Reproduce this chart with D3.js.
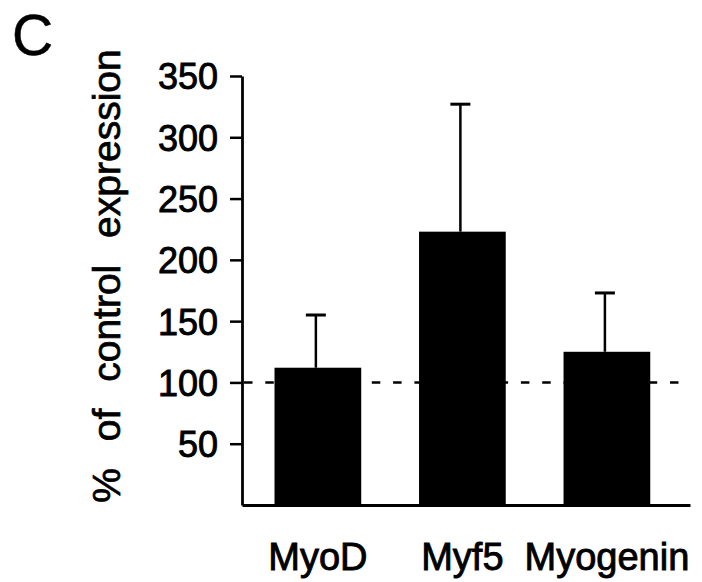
<!DOCTYPE html>
<html>
<head>
<meta charset="utf-8">
<script src="https://cdn.jsdelivr.net/npm/d3@7"></script>
<style>
  html, body { margin: 0; padding: 0; background: #fff; }
  svg { display: block; }
  text { font-family: "Liberation Sans", Arial, Helvetica, sans-serif; fill: #000; }
</style>
</head>
<body>
<svg id="chart" width="702" height="582"></svg>
<script>
// ---- data ----
const categories = ["MyoD", "Myf5", "Myogenin"];
const values = [112, 223, 125];
const errors = [43, 104, 48];
const yTicks = [50, 100, 150, 200, 250, 300, 350];
const controlLevel = 100;
const panelLabel = "C";
const yTitle = "% of control expression";

// ---- layout ----
const svg = d3.select("#chart");
const x = d3.scaleBand()
  .domain(categories)
  .range([242, 690])
  .paddingInner(0.4)
  .paddingOuter(0.25)
  .align(0.45);
const y = d3.scaleLinear().domain([0, 350]).range([505, 76]);

// dashed control line (behind bars)
svg.append("line")
  .attr("x1", 244).attr("x2", 682)
  .attr("y1", y(controlLevel)).attr("y2", y(controlLevel))
  .attr("stroke", "#000").attr("stroke-width", 2.5)
  .attr("stroke-dasharray", "8.5,12.8");

// bars
svg.selectAll("rect.bar")
  .data(categories)
  .join("rect")
  .attr("class", "bar")
  .attr("x", d => x(d))
  .attr("width", x.bandwidth())
  .attr("y", (d, i) => y(values[i]))
  .attr("height", (d, i) => y(0) - y(values[i]))
  .attr("fill", "#000");

// error bars (upper only)
const eb = svg.append("g");
categories.forEach((c, i) => {
  const cx = x(c) + x.bandwidth() / 2 - 2;
  eb.append("line")
    .attr("x1", cx).attr("x2", cx)
    .attr("y1", y(values[i])).attr("y2", y(values[i] + errors[i]))
    .attr("stroke", "#000").attr("stroke-width", 2.5);
  eb.append("line")
    .attr("x1", cx - 10).attr("x2", cx + 10)
    .attr("y1", y(values[i] + errors[i])).attr("y2", y(values[i] + errors[i]))
    .attr("stroke", "#000").attr("stroke-width", 3);
});

// y axis
const yAxis = svg.append("g")
  .attr("transform", "translate(242,0)")
  .call(d3.axisLeft(y).tickValues(yTicks).tickSize(12).tickSizeOuter(0).tickPadding(12));
yAxis.select(".domain").attr("stroke", "#000").attr("stroke-width", 2.8);
yAxis.selectAll(".tick line").attr("stroke", "#000").attr("stroke-width", 2.5);
yAxis.selectAll(".tick text")
  .attr("font-size", 36)
  .attr("font-family", "Liberation Sans, Arial, sans-serif")
  .attr("fill", "#000")
  .attr("stroke", "#000").attr("stroke-width", 0.9)
  .attr("dy", "0.36em");

// x axis
const xAxis = svg.append("g")
  .attr("transform", "translate(0," + y(0) + ")")
  .call(d3.axisBottom(x).tickSize(0).tickSizeOuter(0).tickPadding(0));
xAxis.select(".domain").attr("stroke", "#000").attr("stroke-width", 2.8);
xAxis.selectAll(".tick text")
  .attr("font-size", 38)
  .attr("font-family", "Liberation Sans, Arial, sans-serif")
  .attr("fill", "#000")
  .attr("stroke", "#000").attr("stroke-width", 0.9)
  .attr("y", 65)
  .attr("dy", 0);

// y title
svg.append("text")
  .attr("transform", "translate(120,276) rotate(-90)")
  .attr("text-anchor", "middle")
  .attr("font-size", 39)
  .attr("word-spacing", 16)
  .attr("stroke", "#000").attr("stroke-width", 0.7)
  .text(yTitle);

// panel label
svg.append("text")
  .attr("x", 12).attr("y", 55)
  .attr("font-size", 57)
  .attr("stroke", "#000").attr("stroke-width", 0.5)
  .text(panelLabel);
</script>
</body>
</html>
